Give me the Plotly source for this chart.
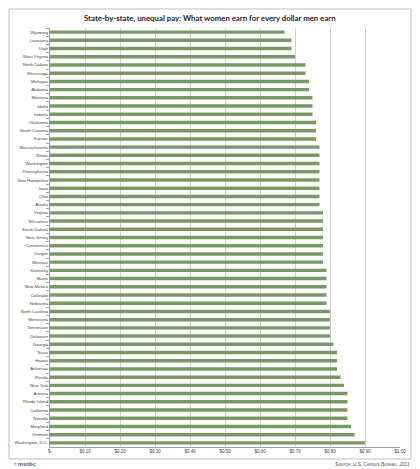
import plotly.graph_objects as go

# What women earn per dollar men earn, by state (top to bottom as drawn)
states = [
    "Wyoming", "Louisiana", "Utah", "West Virginia", "North Dakota", "Mississippi",
    "Michigan", "Alabama", "Montana", "Idaho", "Indiana", "Oklahoma",
    "South Carolina", "Kansas", "Massachusetts", "Illinois", "Washington",
    "Pennsylvania", "New Hampshire", "Iowa", "Ohio", "Alaska", "Virginia",
    "Wisconsin", "South Dakota", "New Jersey", "Connecticut", "Oregon", "Missouri",
    "Kentucky", "Maine", "New Mexico", "Colorado", "Nebraska", "North Carolina",
    "Minnesota", "Tennessee", "Delaware", "Georgia", "Texas", "Hawaii", "Arkansas",
    "Florida", "New York", "Arizona", "Rhode Island", "California", "Nevada",
    "Maryland", "Vermont", "Washington, D.C.",
]
ratio = [
    0.67, 0.69, 0.69, 0.70, 0.73, 0.73,
    0.74, 0.74, 0.75, 0.75, 0.75, 0.76,
    0.76, 0.76, 0.77, 0.77, 0.77,
    0.77, 0.77, 0.77, 0.77, 0.77, 0.78,
    0.78, 0.78, 0.78, 0.78, 0.78, 0.78,
    0.79, 0.79, 0.79, 0.79, 0.79, 0.80,
    0.80, 0.80, 0.80, 0.81, 0.82, 0.82, 0.82,
    0.83, 0.84, 0.85, 0.85, 0.85, 0.85,
    0.86, 0.87, 0.90,
]
tick_vals = [0, 0.1, 0.2, 0.3, 0.4, 0.5, 0.6, 0.7, 0.8, 0.9, 1.0]
tick_text = ["$-", "$0.10", "$0.20", "$0.30", "$0.40", "$0.50",
             "$0.60", "$0.70", "$0.80", "$0.90", "$1.00"]

W, H = 420, 469
MARGIN = dict(l=50, r=20, t=28, b=22)
PW = W - MARGIN["l"] - MARGIN["r"]
PH = H - MARGIN["t"] - MARGIN["b"]


def px_x(x):
    return (x - MARGIN["l"]) / PW


def px_y(y):
    return (H - MARGIN["b"] - y) / PH


fig = go.Figure(
    go.Bar(
        x=ratio,
        y=states,
        orientation="h",
        marker=dict(color="#779966", line=dict(width=0)),
        width=0.42,
        hoverinfo="x+y",
    )
)

fig.update_layout(
    width=W,
    height=H,
    margin=dict(MARGIN, autoexpand=False),
    paper_bgcolor="white",
    plot_bgcolor="white",
    showlegend=False,
    font=dict(family="Liberation Sans, Arial, sans-serif", color="#404040"),
    xaxis=dict(
        range=[0, 1.0],
        tickvals=tick_vals,
        ticktext=tick_text,
        tickfont=dict(size=4.5),
        showgrid=True,
        gridcolor="#d0d0d0",
        gridwidth=1,
        zeroline=False,
        showline=True,
        linecolor="#a0a0a0",
        ticks="",
        automargin=False,
        fixedrange=True,
    ),
    yaxis=dict(
        autorange="reversed",
        tickfont=dict(size=4.3),
        showgrid=False,
        showline=True,
        linecolor="#a0a0a0",
        ticks="outside",
        ticklen=3,
        tickcolor="#a0a0a0",
        tickson="boundaries",
        automargin=False,
        fixedrange=True,
    ),
)

# chart border
fig.add_shape(
    type="rect", xref="paper", yref="paper",
    x0=px_x(9), x1=px_x(411), y0=px_y(459), y1=px_y(9),
    line=dict(color="#bdbdbd", width=1), layer="below",
)

fig.add_annotation(
    text="<b>State-by-state, unequal pay: What women earn for every dollar men earn</b>",
    xref="paper", yref="paper", x=px_x(210), y=px_y(18),
    showarrow=False, xanchor="center", yanchor="middle",
    font=dict(size=7.8, color="#222222", family="Lato, Liberation Sans, sans-serif"),
)
fig.add_annotation(
    text="<i>Source: U.S. Census Bureau, 2011</i>",
    xref="paper", yref="paper", x=px_x(412), y=px_y(464),
    showarrow=False, xanchor="right", yanchor="middle",
    font=dict(size=4.8, color="#555555"),
)
fig.add_annotation(
    text="<span style='color:#e8a020'>✦</span><b>msnbc</b>",
    xref="paper", yref="paper", x=px_x(11), y=px_y(464),
    showarrow=False, xanchor="left", yanchor="middle",
    font=dict(size=5.5, color="#3a5a8a"),
)

# the page body has a default 8px margin; drop it so the figure sits at 0,0
fig.write_html(
    "out.html",
    config={"displayModeBar": False},
    post_script="document.body.style.margin = '0';",
)
